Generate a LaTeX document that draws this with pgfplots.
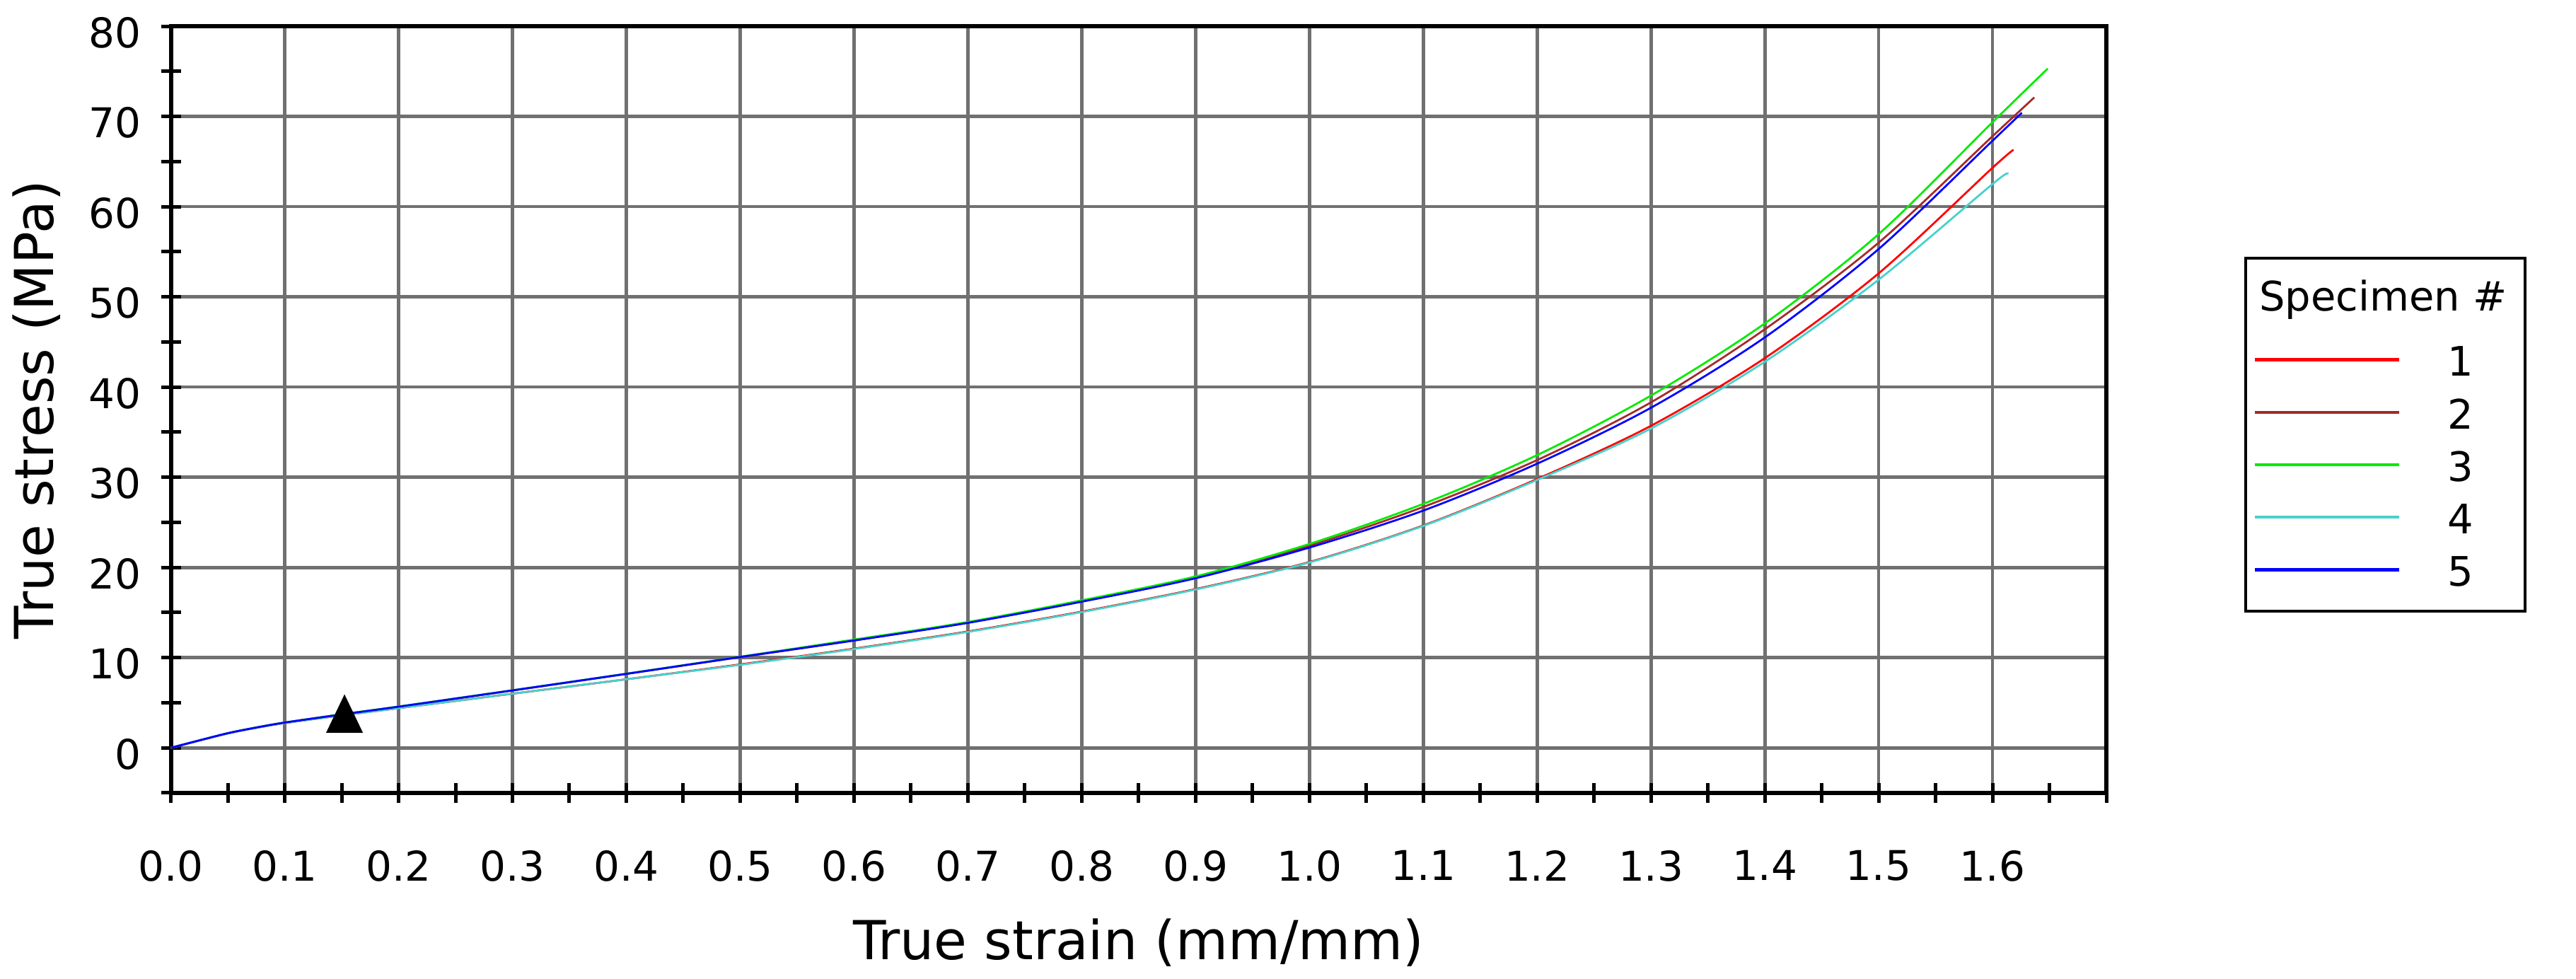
\documentclass[border=0pt]{standalone}
\usepackage{fontspec}
\setmainfont{DejaVu Sans}
\usepackage{pgfplots}
\pgfplotsset{compat=1.18}

\definecolor{spec1}{RGB}{255,0,0}
\definecolor{spec2}{RGB}{165,42,42}
\definecolor{spec3}{RGB}{0,235,0}
\definecolor{spec4}{RGB}{72,209,204}
\definecolor{spec5}{RGB}{0,0,255}
\definecolor{gridgray}{RGB}{112,112,112}

\begin{document}
\begin{tikzpicture}
\begin{axis}[
    scale only axis,
    width=547.3bp, height=216.8bp,
    xmin=0, xmax=1.7,
    ymin=-5, ymax=80,
    xtick={0,0.1,0.2,0.3,0.4,0.5,0.6,0.7,0.8,0.9,1.0,1.1,1.2,1.3,1.4,1.5,1.6},
    xticklabels={0.0,0.1,0.2,0.3,0.4,0.5,0.6,0.7,0.8,0.9,1.0,1.1,1.2,1.3,1.4,1.5,1.6},
    minor xtick={0.05,0.15,0.25,0.35,0.45,0.55,0.65,0.75,0.85,0.95,1.05,1.15,1.25,1.35,1.45,1.55,1.65,1.7},
    ytick={0,10,...,80},
    minor ytick={-5,5,15,25,35,45,55,65,75},
    xtick pos=bottom, ytick pos=left,
    tick align=center,
    major tick length=5.6bp, minor tick length=5.6bp,
    every tick/.style={black, line width=1bp},
    axis line style={black, line width=1.2bp},
    grid=major,
    major grid style={gridgray, line width=0.95bp},
    /pgf/number format/assume math mode=true,
    tick label style={font=\fontsize{11.6bp}{13.9bp}\selectfont},
    xticklabel style={anchor=north, inner sep=0pt, yshift=-13.2bp},
    yticklabel style={anchor=east, inner sep=0pt, xshift=-5.4bp, yshift=-1.8bp},
    label style={font=\fontsize{15.2bp}{18.2bp}\selectfont},
    xlabel={True strain (mm/mm)},
    ylabel={True stress (MPa)},
    xlabel style={at={(axis description cs:0.5,-0.21725)}, anchor=base, inner sep=0pt},
    ylabel style={at={(axis description cs:-0.06084,0.5)}, anchor=base, inner sep=0pt},
    legend style={draw=none, fill=none,
        at={(axis description cs:1.0760,0.5937)}, anchor=north west,
        inner sep=0pt, outer sep=0pt, row sep=0pt, column sep=13.15bp,
        font=\fontsize{11.5bp}{13.8bp}\selectfont,
        nodes={inner sep=0pt, minimum height=14.85bp, yshift=-1.2bp}},
    legend cell align=left,
    legend image code/.code={\draw[line width=0.85bp] (0bp,0bp) -- (40.8bp,0bp);},
    every axis plot/.append style={line width=0.55bp, smooth},
]

% specimen 1
\addplot[spec1] table {
x y
0 0
0.02 0.65
0.05 1.6
0.075 2.22
0.1 2.75
0.15 3.6
0.2 4.4
0.3 6.0
0.4 7.6
0.5 9.25
0.6 11.0
0.7 12.9
0.8 15.1
0.9 17.6
1.0 20.6
1.1 24.65
1.2 29.8
1.3 35.7
1.4 43.2
1.5 52.6
1.6 64.3
1.6185 66.3
};
\addlegendentry{1}

% specimen 2
\addplot[spec2] table {
x y
0 0
0.02 0.66
0.05 1.62
0.075 2.25
0.1 2.8
0.15 3.7
0.2 4.56
0.3 6.35
0.4 8.2
0.5 10.05
0.6 11.9
0.7 13.9
0.8 16.25
0.9 18.9
1.0 22.4
1.1 26.7
1.2 31.9
1.3 38.3
1.4 46.4
1.5 56.0
1.6 67.8
1.6367 72.1
};
\addlegendentry{2}

% specimen 3
\addplot[spec3] table {
x y
0 0
0.02 0.66
0.05 1.62
0.075 2.26
0.1 2.8
0.15 3.72
0.2 4.58
0.3 6.38
0.4 8.22
0.5 10.1
0.6 12.0
0.7 13.95
0.8 16.35
0.9 19.0
1.0 22.6
1.1 27.05
1.2 32.45
1.3 39.05
1.4 47.05
1.5 56.95
1.6 69.35
1.6485 75.3
};
\addlegendentry{3}

% specimen 4
\addplot[spec4] table {
x y
0 0
0.02 0.65
0.05 1.6
0.075 2.22
0.1 2.75
0.15 3.6
0.2 4.4
0.3 6.0
0.4 7.6
0.5 9.2
0.6 10.95
0.7 12.85
0.8 15.05
0.9 17.55
1.0 20.55
1.1 24.6
1.2 29.7
1.3 35.4
1.4 42.8
1.5 51.9
1.6 62.5
1.6129 63.6
};
\addlegendentry{4}

% specimen 5
\addplot[spec5] table {
x y
0 0
0.02 0.66
0.05 1.62
0.075 2.25
0.1 2.8
0.15 3.7
0.2 4.56
0.3 6.37
0.4 8.2
0.5 10.07
0.6 11.9
0.7 13.85
0.8 16.2
0.9 18.8
1.0 22.2
1.1 26.3
1.2 31.5
1.3 37.7
1.4 45.5
1.5 55.3
1.6 67.3
1.6257 70.4
};
\addlegendentry{5}

% marker
\addplot[forget plot, only marks, mark=triangle*, black,
    mark size=6.64bp, mark options={xscale=0.83}] coordinates {(0.1525,3.08)};

\end{axis}
\node[anchor=base west, inner sep=0pt, font=\fontsize{11.5bp}{13.8bp}\selectfont]
    at (590.3bp,136.3bp) {Specimen \#};
\draw[line width=0.85bp] (586.7bp,51.4bp) rectangle (665.7bp,151.2bp);
\pgfresetboundingbox
\path[use as bounding box] (-48.32bp,-52.6bp) rectangle (680.1bp,224.2bp);
\end{tikzpicture}
\end{document}
